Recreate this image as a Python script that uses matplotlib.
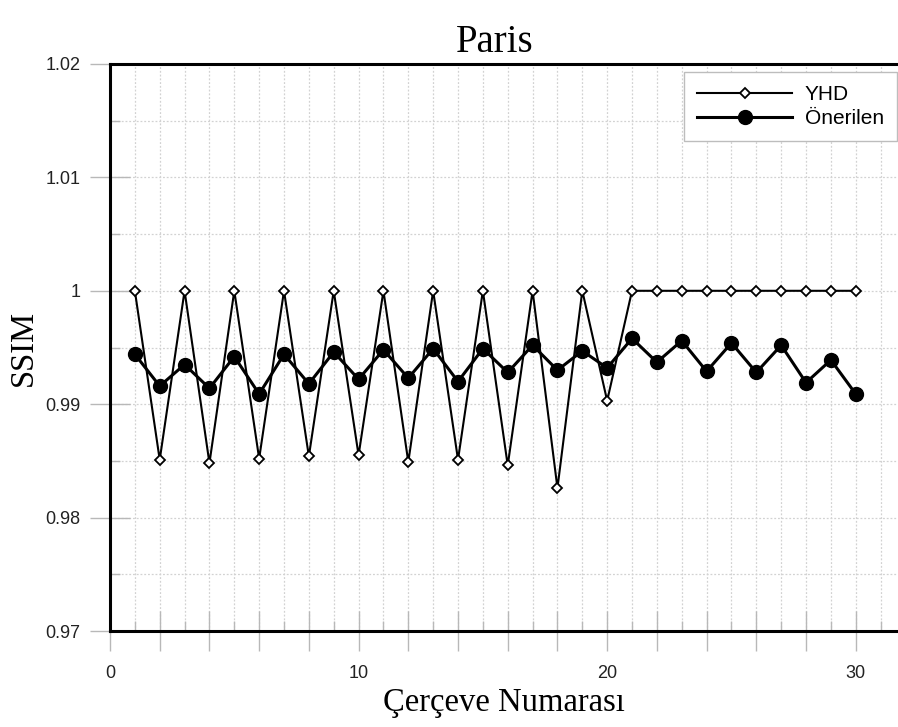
import matplotlib
matplotlib.use("Agg")
import matplotlib.pyplot as plt
from matplotlib.ticker import MultipleLocator, FixedLocator

# Frame index
frames = list(range(1, 31))

# SSIM per frame
yhd = [1.0, 0.9851, 1.0, 0.9848, 1.0, 0.9852, 1.0, 0.9854, 1.0, 0.9855,
       1.0, 0.9849, 1.0, 0.9851, 1.0, 0.9846, 1.0, 0.9826, 1.0, 0.9903,
       1.0, 1.0, 1.0, 1.0, 1.0, 1.0, 1.0, 1.0, 1.0, 1.0]
onerilen = [0.9944, 0.9916, 0.9935, 0.9914, 0.9942, 0.9909, 0.9944, 0.9918,
            0.9946, 0.9922, 0.9948, 0.9923, 0.9949, 0.9920, 0.9949, 0.9928,
            0.9952, 0.9930, 0.9947, 0.9932, 0.9958, 0.9937, 0.9956, 0.9929,
            0.9954, 0.9928, 0.9952, 0.9919, 0.9939, 0.9909]

series_names = ["YHD", "Önerilen"]
y_ticks = [0.97, 0.98, 0.99, 1.00, 1.01, 1.02]
y_tick_labels = ["0.97", "0.98", "0.99", "1", "1.01", "1.02"]
x_major = list(range(0, 32, 2))
x_labelled = [0, 10, 20, 30]

title = "Paris"
xlabel = "Çerçeve Numarası"
ylabel = "SSIM"

sans = ["Liberation Sans", "DejaVu Sans"]
serif = ["Liberation Serif", "DejaVu Serif"]

fig = plt.figure(figsize=(8.98, 7.27), dpi=100)
ax = fig.add_axes([110 / 898, (727 - 631) / 727, 788 / 898, (631 - 64) / 727])

ax.plot(frames, yhd, color="black", lw=1.5, marker="D", ms=5.3,
        mfc="white", mec="black", mew=1.3, label=series_names[0], zorder=3)
ax.plot(frames, onerilen, color="black", lw=2.2, marker="o", ms=10,
        mfc="black", mec="black", label=series_names[1], zorder=4)

ax.set_xlim(0, 31.7)
ax.set_ylim(0.97, 1.02)

ax.xaxis.set_major_locator(FixedLocator(x_major))
ax.set_xticklabels([str(v) if v in x_labelled else "" for v in x_major])
ax.xaxis.set_minor_locator(MultipleLocator(1))
ax.yaxis.set_major_locator(FixedLocator(y_ticks))
ax.set_yticklabels(y_tick_labels)
ax.yaxis.set_minor_locator(MultipleLocator(0.005))

tick_gray = "#b8b8b8"
ax.tick_params(which="major", direction="inout", length=29, width=1.0,
               color=tick_gray, labelsize=13, labelcolor="#222222")
ax.tick_params(axis="x", which="major", pad=10)
ax.tick_params(axis="y", which="major", pad=7)
ax.tick_params(which="minor", direction="in", length=7.5, width=1.0,
               color=tick_gray)
for lbl in ax.get_xticklabels() + ax.get_yticklabels():
    lbl.set_fontfamily(sans)

ax.grid(True, which="both", linestyle=(0, (1.5, 1.5)), color="#d2d2d2", lw=0.9)
ax.set_axisbelow(True)

for side in ("left", "top", "bottom"):
    ax.spines[side].set_linewidth(2.2)
    ax.spines[side].set_color("black")
ax.spines["right"].set_visible(False)

leg = ax.legend(loc="upper right", bbox_to_anchor=(897 / 898, (727 - 72) / 727),
                bbox_transform=fig.transFigure, borderaxespad=0,
                prop={"family": sans, "size": 15}, handlelength=4.6,
                handletextpad=0.6, labelspacing=0.25, borderpad=0.62,
                fancybox=False, framealpha=1, edgecolor="#bdbdbd")
leg.get_frame().set_linewidth(1.0)

ax.set_xlabel(xlabel, fontfamily=serif, fontsize=23.5, labelpad=4)
ax.set_ylabel(ylabel, fontfamily=serif, fontsize=23.5, labelpad=4.5)
fig.text(495 / 898, (727 - 52) / 727, title, fontfamily=serif, fontsize=28,
         ha="center", va="baseline")

fig.savefig("out.png", dpi=100)
